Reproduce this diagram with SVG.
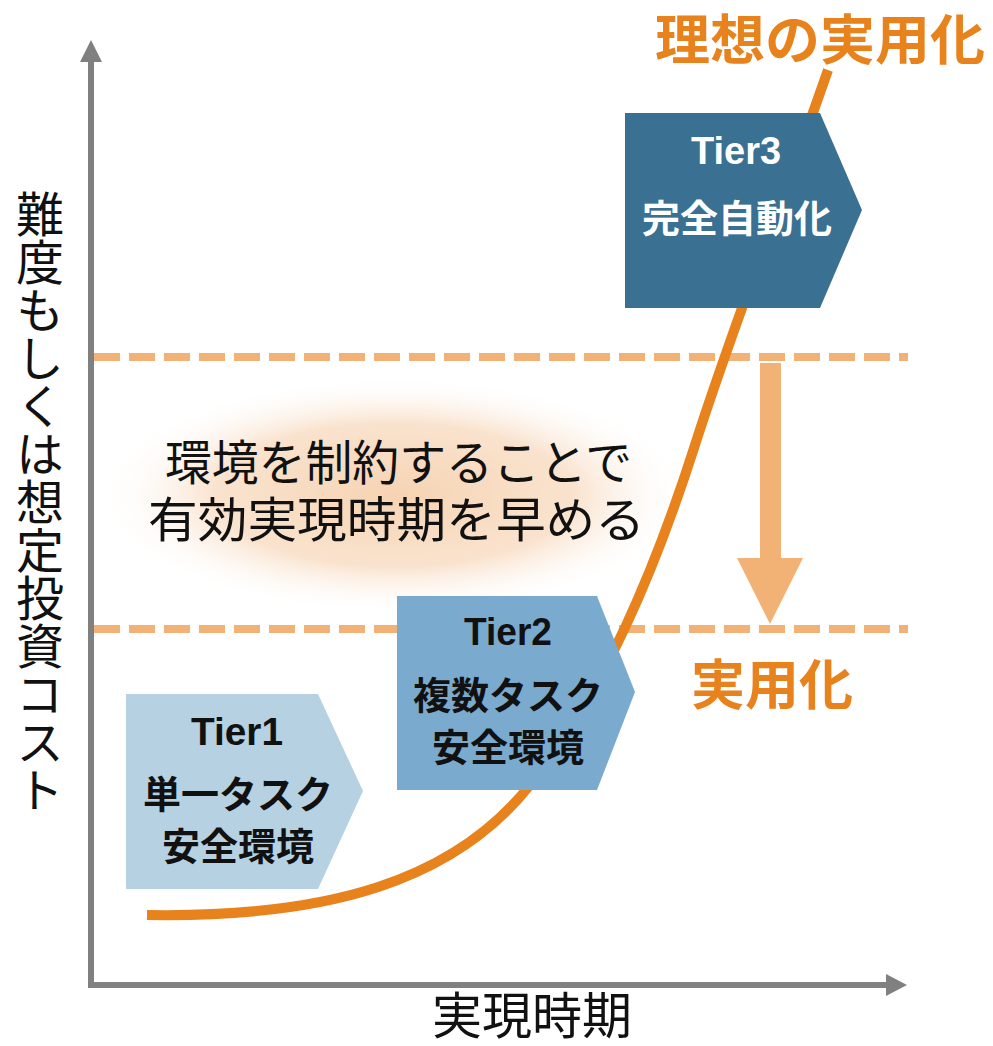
<svg xmlns="http://www.w3.org/2000/svg" width="993" height="1046" viewBox="0 0 993 1046">
<defs>
<style>
.jp{font-family:"Noto Sans CJK JP","Noto Sans CJK SC",sans-serif;}
.tier{font-family:"Liberation Sans","Noto Sans CJK JP",sans-serif;font-weight:bold;font-size:39px;text-anchor:middle;}
.box{font-family:"Noto Sans CJK JP",sans-serif;font-weight:bold;font-size:38px;text-anchor:middle;}
.dash{stroke:#F2B275;stroke-width:8;stroke-dasharray:26 9;fill:none;}
.axis{stroke:#808080;stroke-width:6;fill:none;}
.orange{font-family:"Noto Sans CJK JP",sans-serif;font-weight:bold;font-size:54px;fill:#E8821C;}
</style>
<radialGradient id="glow" cx="0.5" cy="0.5" r="0.5">
<stop offset="0" stop-color="#F6D3B2" stop-opacity="1"/>
<stop offset="0.6" stop-color="#F8DCC2" stop-opacity="0.8"/>
<stop offset="1" stop-color="#FFFFFF" stop-opacity="0"/>
</radialGradient>
</defs>
<rect width="993" height="1046" fill="#FFFFFF"/>
<g id="glow-area">
<ellipse cx="395" cy="495" rx="300" ry="120" fill="url(#glow)"/>
</g>
<g id="connectors">
<line class="axis" x1="91" y1="58" x2="91" y2="988"/>
<polygon points="91,40 80,62 102,62" fill="#808080"/>
<line class="axis" x1="88" y1="985" x2="890" y2="985"/>
<polygon points="907,985 886,974 886,996" fill="#808080"/>
<line class="dash" x1="94" y1="357" x2="908" y2="357"/>
<line class="dash" x1="94" y1="629" x2="908" y2="629"/>
<polygon points="760,363 781,363 781,558 803,558 770,624 737,558 760,558" fill="#F2B275"/>
<path d="M147,915 C330,918 455,880 530,785 C605,690 655,570 695,445 C735,320 790,180 828,70" fill="none" stroke="#E8821C" stroke-width="10"/>
</g>
<g id="tier3">
<polygon points="625,113 820,113 862,210 820,308 625,308" fill="#3A7091"/>
<text class="tier" x="736" y="164" textLength="90" lengthAdjust="spacingAndGlyphs" fill="#FFFFFF">Tier3</text>
<text class="box" x="737" y="232" fill="#FFFFFF">完全自動化</text>
</g>
<g id="tier2">
<polygon points="397,596 597,596 635,692 597,790 397,790" fill="#7AAACE"/>
<text class="tier" x="508" y="645" textLength="88" lengthAdjust="spacingAndGlyphs" fill="#111111">Tier2</text>
<text class="box" x="508" y="709" fill="#111111">複数タスク</text>
<text class="box" x="508" y="761" fill="#111111">安全環境</text>
</g>
<g id="tier1">
<polygon points="126,694 318,694 363,791 318,889 126,889" fill="#B5D1E2"/>
<text class="tier" x="237" y="745" textLength="92" lengthAdjust="spacingAndGlyphs" fill="#111111">Tier1</text>
<text class="box" x="238" y="808" fill="#111111">単一タスク</text>
<text class="box" x="238" y="860" fill="#111111">安全環境</text>
</g>
<g id="labels">
<text class="orange" x="655" y="60" textLength="330" lengthAdjust="spacingAndGlyphs">理想の実用化</text>
<text class="orange" x="772" y="705" text-anchor="middle">実用化</text>
<text class="jp" x="165" y="480" font-size="48" textLength="467" lengthAdjust="spacingAndGlyphs" fill="#111111">環境を制約することで</text>
<text class="jp" x="148" y="537" font-size="48" textLength="497" lengthAdjust="spacingAndGlyphs" fill="#111111">有効実現時期を早める</text>
<text class="jp" x="532" y="1034" font-size="50" text-anchor="middle" fill="#111111">実現時期</text>
<text class="jp" x="40" y="190" font-size="48" writing-mode="vertical-rl" fill="#111111">難度もしくは想定投資コスト</text>
</g>
</svg>
